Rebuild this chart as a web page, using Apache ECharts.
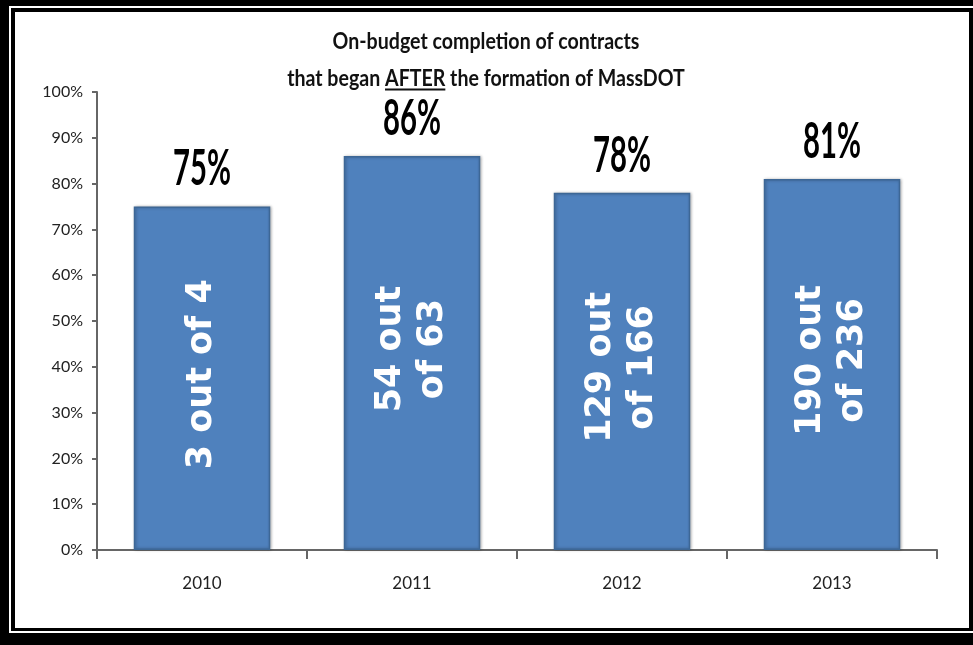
<!DOCTYPE html>
<html>
<head>
<meta charset="utf-8">
<script src="https://cdn.jsdelivr.net/npm/echarts@6/dist/echarts.min.js"></script>
<style>
  html, body { margin: 0; padding: 0; background: #000; width: 973px; height: 645px; overflow: hidden; }
  #rule { position: absolute; left: 9px; top: 6px; width: 990px; height: 627px; border: 2px solid #fff; box-sizing: border-box; }
  #chart { position: absolute; left: 15px; top: 12px; width: 954px; height: 616px; background: #fff; }
</style>
</head>
<body>
<div id="rule"></div>
<div id="chart"></div>
<script>
// Contract completion data by year
const years = ['2010', '2011', '2012', '2013'];
const onBudgetPct = [75, 86, 78, 81];
const contractCounts = ['3 out of 4', '54 out\nof 63', '129 out\nof 166', '190 out\nof 236'];

// Axis settings
const yMin = 0;
const yMax = 100;
const yStep = 10;

// Title text
const titleLine1 = 'On-budget completion of contracts';
const titleLine2Before = 'that began ';
const titleLine2Key = 'AFTER';
const titleLine2After = ' the formation of MassDOT';

const SANS = 'Lato, "DejaVu Sans Condensed", sans-serif';
const CAP = 0.7165;          // cap height of the face, in em
const ascentRatio = 0.80;    // baseline offset from the top of the text box, in em

const measureCtx = document.createElement('canvas').getContext('2d');
const widthAt = (font, s) => { measureCtx.font = font; return measureCtx.measureText(s).width; };

// title: size picked so the first line spans 307px, then stretched to a 16px cap height
const titleSize = 307 / (widthAt('bold 100px ' + SANS, titleLine1) / 100);
const titleScaleY = 16 / (CAP * titleSize);
const titleFont = 'bold ' + titleSize.toFixed(2) + 'px ' + SANS;

const line2 = titleLine2Before + titleLine2Key + titleLine2After;
const titleCx = 471;
const line1Baseline = 36.3;
const line2Baseline = 73.5;
const line2Start = titleCx - widthAt(titleFont, line2) / 2;
const keyX = line2Start + widthAt(titleFont, titleLine2Before);
const keyW = widthAt(titleFont, titleLine2Key);

// value labels above the bars: 58px wide, 35px tall
const pctSize = 58 / (widthAt('bold 100px ' + SANS, '75%') / 100);
const pctScaleY = 35 / (CAP * pctSize);
const pctGap = 22;

const chart = echarts.init(document.getElementById('chart'));

chart.setOption({
  backgroundColor: '#fff',
  animation: false,
  grid: { left: 82, right: 32, top: 80, bottom: 78, containLabel: false },
  graphic: [
    {
      type: 'text', x: titleCx, y: line1Baseline - ascentRatio * titleSize * titleScaleY,
      scaleY: titleScaleY,
      style: { text: titleLine1, font: titleFont, fill: '#111', align: 'center', verticalAlign: 'top' }
    },
    {
      type: 'text', x: titleCx, y: line2Baseline - ascentRatio * titleSize * titleScaleY,
      scaleY: titleScaleY,
      style: { text: line2, font: titleFont, fill: '#111', align: 'center', verticalAlign: 'top' }
    },
    {
      type: 'rect', shape: { x: keyX, y: line2Baseline + 3, width: keyW, height: 2 },
      style: { fill: '#111' }
    }
  ],
  xAxis: {
    type: 'category',
    data: years,
    boundaryGap: true,
    axisLine: { show: true, lineStyle: { color: '#666', width: 2 } },
    axisTick: { show: true, length: 9, alignWithLabel: false, lineStyle: { color: '#666', width: 2 } },
    axisLabel: { color: '#222', fontFamily: SANS, fontSize: 17, margin: 25 }
  },
  yAxis: {
    type: 'value',
    min: yMin, max: yMax, interval: yStep,
    axisLine: { show: true, lineStyle: { color: '#666', width: 2 } },
    axisTick: { show: true, length: 5, lineStyle: { color: '#666', width: 2 } },
    splitLine: { show: false },
    axisLabel: { color: '#222', fontFamily: SANS, fontSize: 16, margin: 14, formatter: '{value}%' }
  },
  series: [
    {
      type: 'bar',
      data: onBudgetPct,
      barWidth: '65%',
      itemStyle: {
        color: '#4f81bd',
        borderColor: '#3d6796',
        borderWidth: 1.5,
        shadowColor: 'rgba(0,0,0,0.3)',
        shadowBlur: 3,
        shadowOffsetX: 1,
        shadowOffsetY: 0
      },
      label: {
        show: true,
        position: 'inside',
        rotate: 90,
        offset: [4, 0],
        formatter: p => contractCounts[p.dataIndex],
        color: '#fff',
        fontFamily: '"DejaVu Sans", Verdana, sans-serif',
        fontWeight: 'bold',
        fontSize: 35,
        lineHeight: 42,
        align: 'center',
        verticalAlign: 'middle'
      },
      silent: true
    },
    {
      // percentage labels above each bar, drawn tall and narrow
      type: 'custom',
      data: onBudgetPct.map((v, i) => [i, v]),
      silent: true,
      z: 5,
      renderItem: (params, api) => {
        const p = api.coord([api.value(0), api.value(1)]);
        return {
          type: 'text',
          x: p[0],
          y: p[1] - pctGap - ascentRatio * pctSize * pctScaleY,
          scaleY: pctScaleY,
          style: {
            text: api.value(1) + '%',
            font: 'bold ' + pctSize.toFixed(2) + 'px ' + SANS,
            fill: '#000',
            align: 'center',
            verticalAlign: 'top'
          }
        };
      }
    }
  ]
});
</script>
</body>
</html>
